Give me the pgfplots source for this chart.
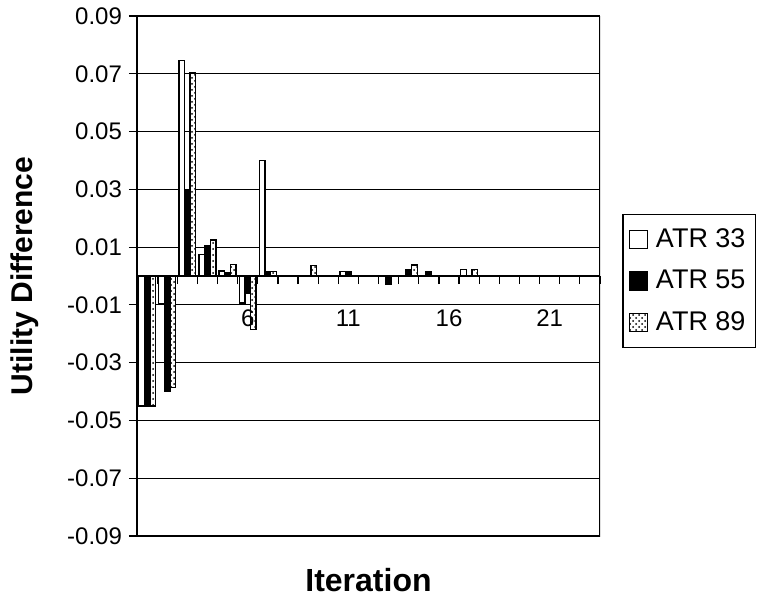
\documentclass[border=0pt]{standalone}
\usepackage{pgfplots}
\pgfplotsset{compat=1.18}
\usepackage{fontspec}
\setmainfont{Liberation Sans}
\usetikzlibrary{patterns}
\begin{document}
\begin{tikzpicture}
\useasboundingbox (-68.5pt,-32pt) rectangle (311.5pt,268pt);
\begin{axis}[
  scale only axis, width=231.5pt, height=260pt,
  xmin=0.5, xmax=23.5, ymin=-0.09, ymax=0.09,
  axis x line=middle, axis y line=left,
  axis line style={-, line width=0.8pt},
  /pgf/number format/assume math mode=true,
  scaled y ticks=false,
  ytick={-0.09,-0.07,-0.05,-0.03,-0.01,0.01,0.03,0.05,0.07,0.09},
  y tick label style={/pgf/number format/fixed, /pgf/number format/fixed zerofill, /pgf/number format/precision=2, font=\fontsize{12}{14}\selectfont},
  ymajorgrids, grid style={black, line width=0.6pt},
  xtick={6,11,16,21},
  xticklabels={},
  minor xtick={0.5,1.5,...,23.5},
  major x tick style={draw=none},
  minor x tick style={black, line width=0.6pt},
  y tick style={black, line width=0.6pt},
  minor tick length=4pt, major tick length=4pt,
  tick align=outside,
  ylabel={Utility Difference},
  xlabel={Iteration},
  every axis y label/.style={at={(axis description cs:-0.242,0.5)}, rotate=90, anchor=center, font=\fontsize{15}{18}\selectfont\bfseries},
  every axis x label/.style={at={(axis description cs:0.5,-0.085)}, anchor=center, font=\fontsize{16}{19}\selectfont\bfseries},
  legend style={at={(axis description cs:1.0475,0.62)}, anchor=north west, draw=black, line width=0.8pt, font=\fontsize{13.5}{16}\selectfont, row sep=6pt, inner xsep=3pt, inner ysep=5pt, /tikz/every odd column/.style={column sep=2pt}},
  legend cell align=left,
  legend image code/.code={\draw[#1, line width=0.6pt] (0pt,-4.5pt) rectangle (9pt,4.5pt);},
]
\addplot[ybar, bar width=0.28, bar shift=-0.28, draw=black, fill=white, line width=0.7pt] coordinates {
(1,-0.045) (2,-0.0097) (3,0.0745) (4,0.0075) (5,0.0018) (6,-0.0093) (7,0.040) (11,0.0015) (17,0.0022)};
\addplot[ybar, bar width=0.28, bar shift=0, draw=black, fill=black, line width=0.7pt] coordinates {
(1,-0.045) (2,-0.040) (3,0.030) (4,0.0105) (5,0.0012) (6,-0.006) (7,0.0015) (11,0.0015) (13,-0.0027) (14,0.0022) (15,0.0015)};
\addplot[ybar, bar width=0.28, bar shift=0.28, draw=black, fill=white, postaction={pattern=crosshatch dots, pattern color=black}, line width=0.7pt] coordinates {
(1,-0.045) (2,-0.0385) (3,0.0703) (4,0.0125) (5,0.004) (6,-0.0185) (7,0.0015) (9,0.0037) (14,0.0038) (17,0.0022)};
\legend{ATR 33, ATR 55, ATR 89}
\draw[line width=0.8pt] (rel axis cs:0,0) rectangle (rel axis cs:1,1);
\end{axis}
\begin{axis}[
  scale only axis, width=231.5pt, height=260pt,
  xmin=0.5, xmax=23.5, ymin=-0.09, ymax=0.09,
  axis x line=middle, axis y line=none,
  axis line style={draw=none},
  /pgf/number format/assume math mode=true,
  xtick={6,11,16,21}, ytick=\empty,
  major x tick style={draw=none},
  tick align=outside,
  x tick label style={font=\fontsize{12}{14}\selectfont, yshift=-9pt},
]
\end{axis}
\end{tikzpicture}
\end{document}
